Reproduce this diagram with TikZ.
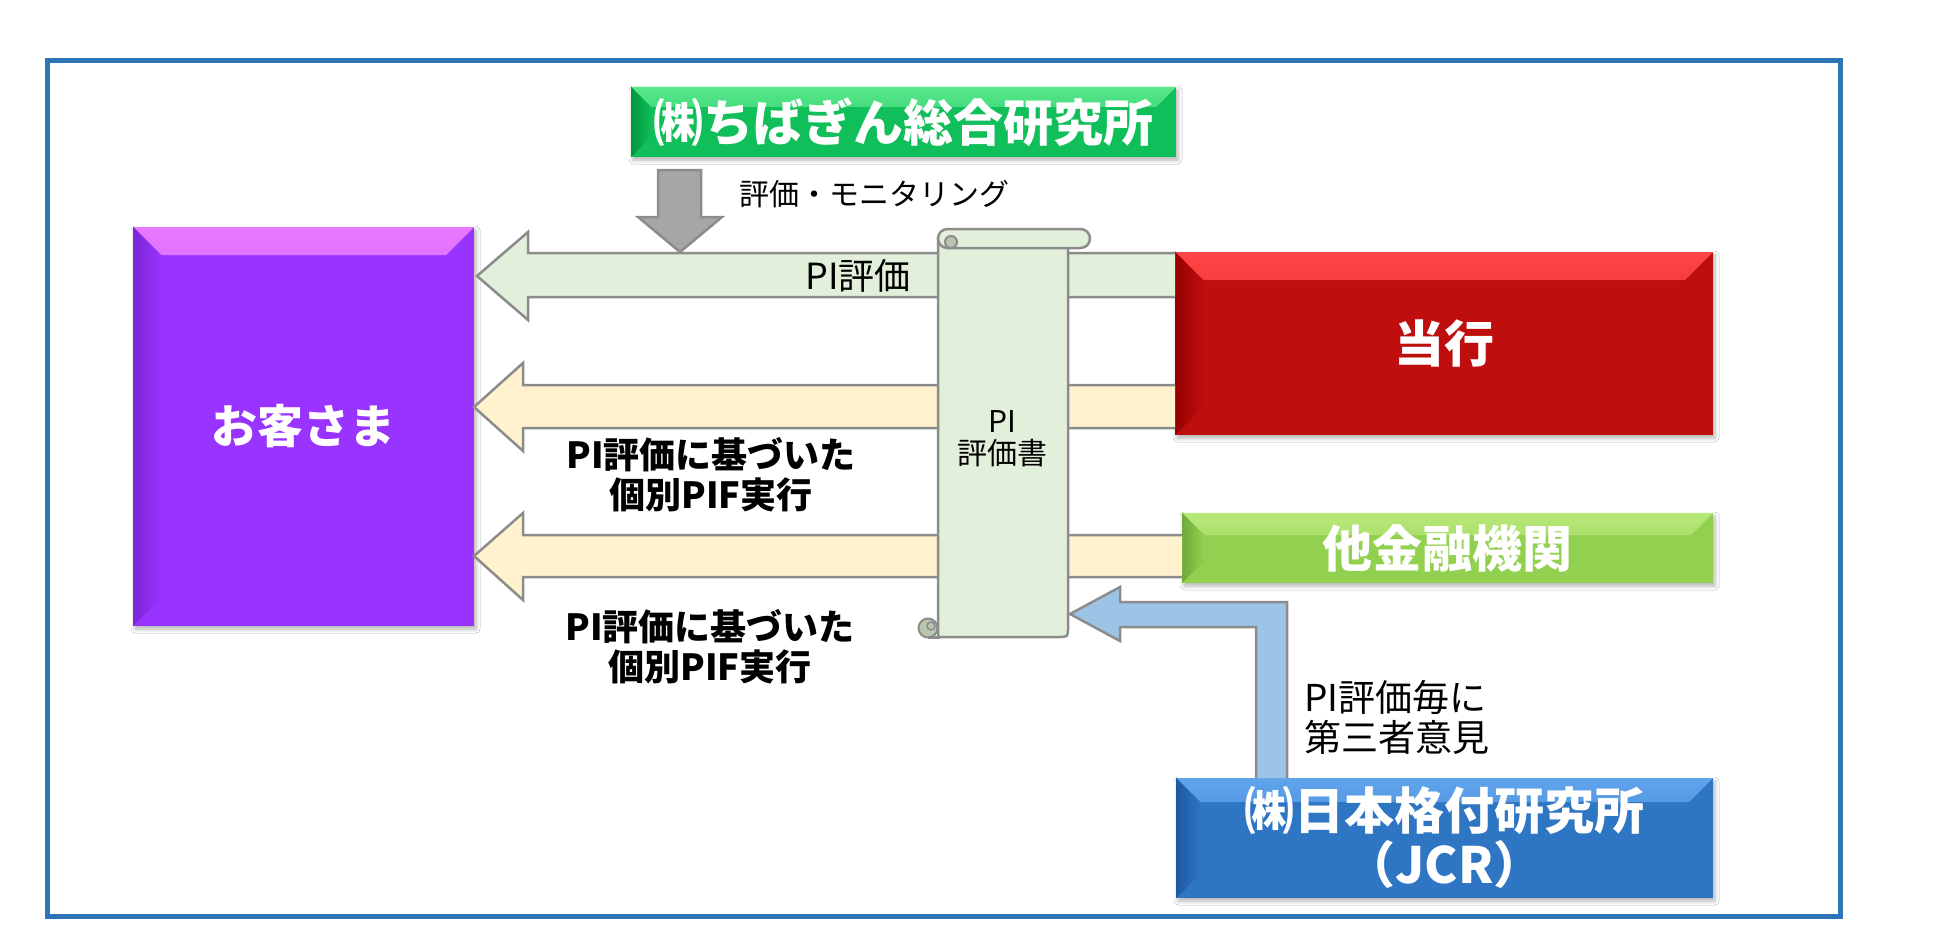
\documentclass[tikz,border=0pt]{standalone}
\usepackage{fontspec}
\setmainfont{Noto Sans CJK JP}
\usetikzlibrary{calc,shadows.blur}
\definecolor{frameblue}{RGB}{46,117,182}
\definecolor{arrowgray}{RGB}{140,140,140}
\definecolor{paleGreen}{RGB}{226,239,218}
\definecolor{paleYellow}{RGB}{255,242,204}
\definecolor{paleBlue}{RGB}{157,195,230}
\definecolor{midGray}{RGB}{166,166,166}
\definecolor{curlGreen}{RGB}{184,198,176}
\definecolor{purpleMain}{RGB}{153,51,255}
\definecolor{purpleLight}{RGB}{232,120,255}
\definecolor{purpleDark}{RGB}{122,38,214}
\definecolor{redMain}{RGB}{190,14,14}
\definecolor{redLight}{RGB}{255,70,70}
\definecolor{redDark}{RGB}{150,0,0}
\definecolor{greenMain}{RGB}{16,190,90}
\definecolor{greenLight}{RGB}{90,232,140}
\definecolor{greenDark}{RGB}{0,150,60}
\definecolor{limeMain}{RGB}{146,208,80}
\definecolor{limeLight}{RGB}{184,232,122}
\definecolor{limeDark}{RGB}{110,170,56}
\definecolor{blueMain}{RGB}{46,117,196}
\definecolor{blueLight}{RGB}{96,164,236}
\definecolor{blueDark}{RGB}{28,88,160}
\tikzset{
  bevelbox/.style n args={4}{fill=#3, inner sep=0pt, outer sep=0pt,
    blur shadow={shadow xshift=2pt, shadow yshift=-3pt, shadow blur radius=4pt, shadow opacity=30},
    path picture={
      \shade[top color=#2, middle color=#3, bottom color=#3]
        (path picture bounding box.north west) -- (path picture bounding box.north east)
        -- ([xshift=-#1pt,yshift=-#1pt]path picture bounding box.north east)
        -- ([xshift=#1pt,yshift=-#1pt]path picture bounding box.north west) -- cycle;
      \shade[left color=#4, right color=#3]
        (path picture bounding box.north west)
        -- ([xshift=#1pt,yshift=-#1pt]path picture bounding box.north west)
        -- ([xshift=#1pt,yshift=#1pt]path picture bounding box.south west)
        -- (path picture bounding box.south west) -- cycle;
    }},
  boxtext/.style={text=white, font=\bfseries\fontsize{50}{54}\selectfont, align=center, inner sep=0pt},
  blockarrow/.style={draw=arrowgray, line width=2.5pt, line join=miter},
  lbl/.style={font=\fontsize{30}{32}\selectfont, inner sep=0pt, align=center},
  biglbl/.style={font=\fontsize{37}{40}\selectfont, inner sep=0pt, align=left},
  boldlbl/.style={font=\bfseries\fontsize{36}{40}\selectfont, inner sep=0pt, align=center},
  scrollpart/.style={draw=arrowgray, line width=2.5pt, fill=paleGreen},
  curlpart/.style={draw=arrowgray, line width=2pt, fill=curlGreen},
}
\begin{document}
\begin{tikzpicture}[x=1pt,y=-1pt]
\useasboundingbox (0,0) rectangle (1950,947);
\fill[white] (0,0) rectangle (1950,947);
% frame
\draw[frameblue, line width=5pt] (47,61) rectangle (1840,916);

% boxes (nodes)
\node[bevelbox={20}{greenLight}{greenMain}{greenDark}, minimum width=545pt, minimum height=70pt] (cri) at (903.5,122) {};
\node[bevelbox={28}{purpleLight}{purpleMain}{purpleDark}, minimum width=341pt, minimum height=399pt] (cust) at (303.5,426.5) {};
\node[bevelbox={28}{redLight}{redMain}{redDark}, minimum width=538pt, minimum height=183pt] (bank) at (1444,343.5) {};
\node[bevelbox={22}{limeLight}{limeMain}{limeDark}, minimum width=531pt, minimum height=70pt] (other) at (1447.5,548) {};
\node[bevelbox={24}{blueLight}{blueMain}{blueDark}, minimum width=537pt, minimum height=120pt] (jcr) at (1444.5,838) {};

% block arrows
\draw[blockarrow, fill=midGray] (658,170) -- (701,170) -- (701,217) -- (722,217) -- (680,252) -- (638,217) -- (658,217) -- cycle;
\draw[blockarrow, fill=paleGreen] (bank.west |- 0,253) -- (528,253) -- (528,232) -- (477,276) -- (528,320) -- (528,297) -- (bank.west |- 0,297);
\draw[blockarrow, fill=paleYellow] (bank.west |- 0,385) -- (523,385) -- (523,363) -- (474,407) -- (523,451) -- (523,428) -- (bank.west |- 0,428);
\draw[blockarrow, fill=paleYellow] (other.west |- 0,535) -- (523,535) -- (523,513) -- (474,556) -- (523,600) -- (523,577) -- (other.west |- 0,577);
\draw[blockarrow, fill=paleBlue] (1256,778) -- (1256,627) -- (1120,627) -- (1120,641) -- (1070,614) -- (1120,587) -- (1120,602) -- (1287,602) -- (1287,778);

% scroll (PI評価書)
\filldraw[scrollpart] (938,238) -- (938,637) -- (1058,637) .. controls (1068,637) .. (1068,627) -- (1068,238) -- cycle;
\filldraw[curlpart] (928,628) circle[radius=9.5pt];
\draw[arrowgray, line width=1.5pt] (931,626) circle[radius=4pt];
\draw[arrowgray, line width=2.5pt] (928,637.5) -- (940,637.5);
\filldraw[scrollpart, rounded corners=9.5pt] (938,229) rectangle (1090,248);
\filldraw[curlpart] (951,242) circle[radius=6pt];
\node[lbl] (pidoc) at (1002,439) {PI\\評価書};

% box texts
\node[boxtext] at (cri) {㈱ちばぎん総合研究所};
\node[boxtext, font=\bfseries\fontsize{46}{50}\selectfont] at (cust) {お客さま};
\node[boxtext] at (bank) {当行};
\node[boxtext] at (other) {他金融機関};
\node[boxtext] at (jcr) {㈱日本格付研究所\\（JCR）};

% labels
\node[lbl, anchor=west] (mon) at (739,194) {評価・モニタリング};
\node[font=\fontsize{36}{40}\selectfont, inner sep=0pt] (pieval) at (858,276) {PI評価};
\node[boldlbl] (pif1) at (711,475) {PI評価に基づいた\\個別PIF実行};
\node[boldlbl] (pif2) at (710,647) {PI評価に基づいた\\個別PIF実行};
\node[biglbl, anchor=west] (third) at (1304,717) {PI評価毎に\\第三者意見};
\end{tikzpicture}
\end{document}
